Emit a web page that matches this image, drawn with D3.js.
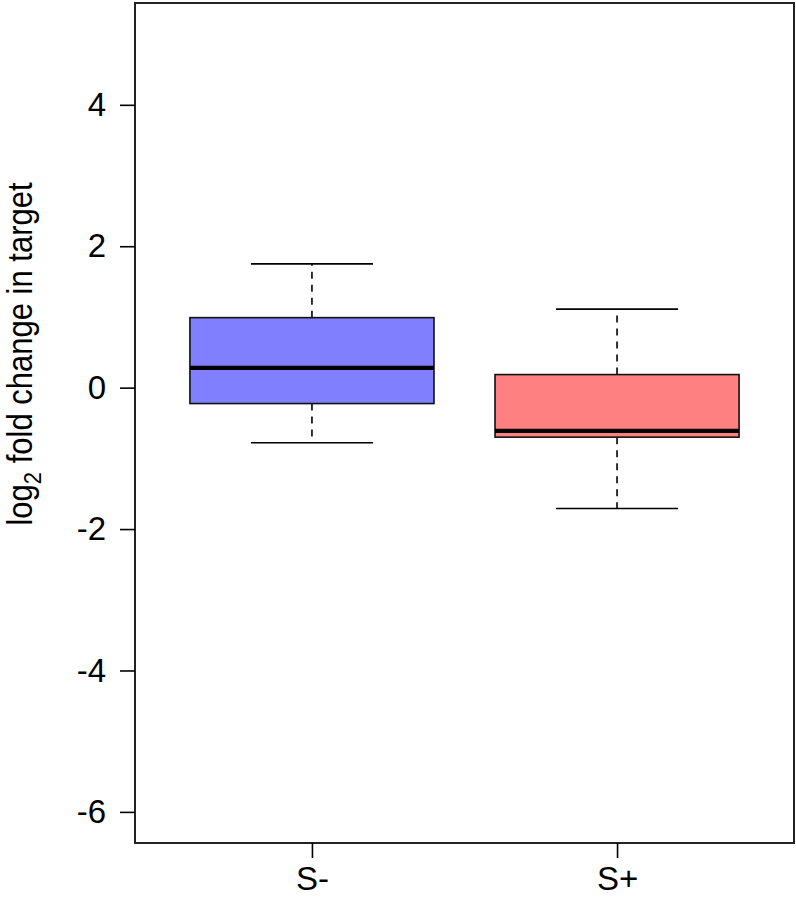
<!DOCTYPE html>
<html><head><meta charset="utf-8">
<script src="https://cdn.jsdelivr.net/npm/d3@7"></script>
<style>body{margin:0;background:#fff}svg{display:block}text{font-family:"Liberation Sans",Arial,sans-serif;fill:#000}</style>
</head><body>
<script>
const categories = ["S-", "S+"];
const whiskerLow = [-0.78, -1.71];
const q1 = [-0.225, -0.70];
const medians = [0.28, -0.61];
const q3 = [0.99, 0.185];
const whiskerHigh = [1.75, 1.11];
const fills = ["#8080FF", "#FF8080"];
const yTicks = [-6, -4, -2, 0, 2, 4];
const yLim = [-6, 5];

const W = 796, H = 906;
const L = 135, R = 794, T = 3, B = 843;
const svg = d3.select("body").append("svg").attr("width", W).attr("height", H);

const pad = (yLim[1] - yLim[0]) * 0.04;
const y = d3.scaleLinear().domain([yLim[0] - pad, yLim[1] + pad]).range([B, T]);
const x = d3.scaleLinear().domain([0.5 - 0.08, 2.5 + 0.08]).range([L, R]);
const bw = x(1.4) - x(1.0); // half box width (0.4 units)

const g = svg.append("g");
categories.forEach((c, i) => {
  const cx = x(i + 1);
  g.append("line").attr("x1", cx).attr("x2", cx).attr("y1", y(q3[i])).attr("y2", y(whiskerHigh[i]))
    .attr("stroke", "#000").attr("stroke-width", 1.6).attr("stroke-dasharray", "7,6");
  g.append("line").attr("x1", cx).attr("x2", cx).attr("y1", y(q1[i])).attr("y2", y(whiskerLow[i]))
    .attr("stroke", "#000").attr("stroke-width", 1.6).attr("stroke-dasharray", "7,6");
  [whiskerLow[i], whiskerHigh[i]].forEach(v => {
    g.append("line").attr("x1", cx - bw / 2).attr("x2", cx + bw / 2).attr("y1", y(v)).attr("y2", y(v))
      .attr("stroke", "#000").attr("stroke-width", 1.6);
  });
  g.append("rect").attr("x", cx - bw).attr("width", 2 * bw)
    .attr("y", y(q3[i])).attr("height", y(q1[i]) - y(q3[i]))
    .attr("fill", fills[i]).attr("stroke", "#111").attr("stroke-width", 1.6);
  g.append("line").attr("x1", cx - bw).attr("x2", cx + bw).attr("y1", y(medians[i])).attr("y2", y(medians[i]))
    .attr("stroke", "#000").attr("stroke-width", 4.3);
});

svg.append("rect").attr("x", L).attr("y", T).attr("width", R - L).attr("height", B - T)
  .attr("fill", "none").attr("stroke", "#222").attr("stroke-width", 2);

const yAxis = d3.axisLeft(y).tickValues(yTicks).tickSize(15).tickPadding(14).tickFormat(d => String(d));
const ya = svg.append("g").attr("transform", `translate(${L},0)`).call(yAxis);
ya.select(".domain").remove();
ya.selectAll(".tick line").attr("stroke", "#000").attr("stroke-width", 1.6);
ya.selectAll(".tick text").attr("font-size", 33).attr("font-family", '"Liberation Sans",Arial,sans-serif').attr("fill", "#000");

const xAxis = d3.axisBottom(x).tickValues([1, 2]).tickSize(15).tickPadding(9).tickFormat((d) => categories[d - 1]);
const xa = svg.append("g").attr("transform", `translate(0,${B})`).call(xAxis);
xa.select(".domain").remove();
xa.selectAll(".tick line").attr("stroke", "#000").attr("stroke-width", 1.6);
xa.selectAll(".tick text").attr("font-size", 33).attr("font-family", '"Liberation Sans",Arial,sans-serif').attr("fill", "#000");

const lab = svg.append("text").attr("transform", "translate(32,354) scale(1.12,1) rotate(-90)")
  .attr("text-anchor", "middle").attr("font-size", 31);
lab.append("tspan").text("log");
lab.append("tspan").attr("font-size", 22).attr("dy", 8).text("2");
lab.append("tspan").attr("dy", -8).text(" fold change in target");
</script>
</body></html>
